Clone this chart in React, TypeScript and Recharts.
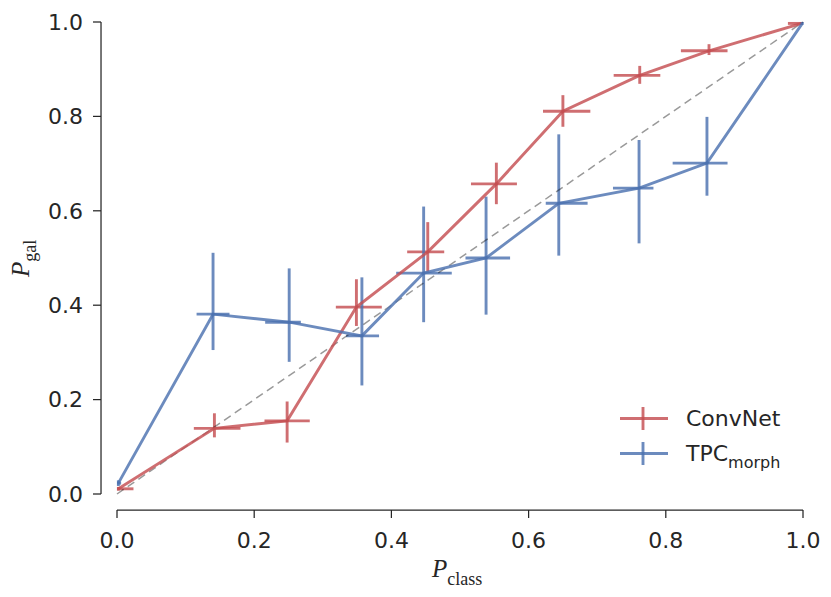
import React from "react";
import {
  ScatterChart,
  Scatter,
  XAxis,
  YAxis,
  ErrorBar,
  ReferenceLine,
} from "recharts";

// ConvNet calibration points: [below, above] error pairs
const convNetX = [0.002, 0.142, 0.248, 0.349, 0.453, 0.553, 0.65, 0.762, 0.863, 0.998];
const convNetY = [0.011, 0.139, 0.155, 0.396, 0.513, 0.657, 0.811, 0.887, 0.939, 0.997];
const convNetXErr = [
  [0.002, 0.022], [0.03, 0.038], [0.033, 0.033], [0.03, 0.037], [0.03, 0.024],
  [0.037, 0.03], [0.029, 0.04], [0.038, 0.03], [0.041, 0.027], [0.02, 0.002],
];
const convNetYErr = [
  [0.004, 0.004], [0.019, 0.032], [0.046, 0.041], [0.04, 0.059], [0.042, 0.063],
  [0.043, 0.045], [0.033, 0.034], [0.018, 0.02], [0.009, 0.014], [0.003, 0.003],
];

// TPC_morph calibration points
const tpcX = [0.002, 0.14, 0.251, 0.357, 0.447, 0.538, 0.644, 0.761, 0.86, 0.999];
const tpcY = [0.023, 0.381, 0.364, 0.335, 0.468, 0.5, 0.616, 0.648, 0.701, 0.997];
const tpcXErr = [
  [0.002, 0.004], [0.024, 0.024], [0.035, 0.017], [0.023, 0.025], [0.04, 0.041],
  [0.03, 0.035], [0.019, 0.042], [0.038, 0.021], [0.05, 0.03], [0.003, 0.001],
];
const tpcYErr = [
  [0.006, 0.006], [0.076, 0.13], [0.084, 0.114], [0.105, 0.124], [0.104, 0.141],
  [0.12, 0.13], [0.111, 0.146], [0.117, 0.102], [0.069, 0.098], [0.003, 0.003],
];

const ticks = [0, 0.2, 0.4, 0.6, 0.8, 1.0];

const RED = "#C44E52";
const BLUE = "#4C72B0";
const INK = "#262626";
const ALPHA = 0.82;
const LW = 2.9;

const toRows = (xs: number[], ys: number[], xe: number[][], ye: number[][]) =>
  xs.map((x, i) => ({ x, y: ys[i], xErr: xe[i], yErr: ye[i] }));

const convNetData = toRows(convNetX, convNetY, convNetXErr, convNetYErr);
const tpcData = toRows(tpcX, tpcY, tpcXErr, tpcYErr);

const tickStyle = { fontFamily: "DejaVu Sans", fontSize: 22, fill: INK };

const noMarker = () => <g />;

function LegendKey({ color }: { color: string }) {
  return (
    <svg width={56} height={35} style={{ display: "block" }}>
      <line x1={8} x2={56} y1={17.5} y2={17.5} stroke={color} strokeWidth={LW} strokeOpacity={ALPHA} />
      <line x1={31} x2={31} y1={6} y2={29} stroke={color} strokeWidth={LW} strokeOpacity={ALPHA} />
    </svg>
  );
}

export default function App() {
  return (
    <div style={{ position: "absolute", left: 0, top: 0, width: 831, height: 597, background: "#fff" }}>
      <ScatterChart width={831} height={597} margin={{ top: 22, right: 28, bottom: 0, left: 0 }}>
        <XAxis
          type="number"
          dataKey="x"
          domain={[0, 1]}
          allowDataOverflow
          ticks={ticks}
          tickFormatter={(v: number) => v.toFixed(1)}
          padding={{ left: 16, right: 0 }}
          height={87}
          axisLine={false}
          tickSize={8}
          tickMargin={14}
          tickLine={{ stroke: INK, strokeWidth: 1.25 }}
          tick={tickStyle}
          label={{
            content: () => (
              <text x={432} y={577} fill={INK} fontFamily="Liberation Serif" fontSize={25}>
                <tspan fontStyle="italic">P</tspan>
                <tspan dy={8} fontSize={18}>class</tspan>
              </text>
            ),
          }}
        />
        <YAxis
          type="number"
          dataKey="y"
          domain={[0, 1]}
          allowDataOverflow
          ticks={ticks}
          tickFormatter={(v: number) => v.toFixed(1)}
          padding={{ top: 0, bottom: 16 }}
          width={101}
          axisLine={false}
          tickSize={8}
          tickMargin={10}
          tickLine={{ stroke: INK, strokeWidth: 1.25 }}
          tick={tickStyle}
          label={{
            content: () => (
              <text
                x={29}
                y={277}
                transform="rotate(-90, 29, 277)"
                fill={INK}
                fontFamily="Liberation Serif"
                fontSize={25}
              >
                <tspan fontStyle="italic">P</tspan>
                <tspan dy={7} fontSize={18}>gal</tspan>
              </text>
            ),
          }}
        />

        {/* offset spines (seaborn despine style), drawn just outside the data range */}
        <ReferenceLine
          segment={[{ x: -0.0233, y: 0 }, { x: -0.0233, y: 1 }]}
          stroke={INK}
          strokeWidth={1.25}
          ifOverflow="visible"
        />
        <ReferenceLine
          segment={[{ x: 0, y: -0.0339 }, { x: 1, y: -0.0339 }]}
          stroke={INK}
          strokeWidth={1.25}
          ifOverflow="visible"
        />

        <Scatter
          name="ConvNet"
          data={convNetData}
          shape={noMarker}
          line={{ stroke: RED, strokeWidth: LW, strokeOpacity: ALPHA }}
          isAnimationActive={false}
        >
          <ErrorBar dataKey="xErr" direction="x" width={0} stroke={RED} strokeWidth={LW} strokeOpacity={ALPHA} />
          <ErrorBar dataKey="yErr" direction="y" width={0} stroke={RED} strokeWidth={LW} strokeOpacity={ALPHA} />
        </Scatter>
        <Scatter
          name="TPC_morph"
          data={tpcData}
          shape={noMarker}
          line={{ stroke: BLUE, strokeWidth: LW, strokeOpacity: ALPHA }}
          isAnimationActive={false}
        >
          <ErrorBar dataKey="xErr" direction="x" width={0} stroke={BLUE} strokeWidth={LW} strokeOpacity={ALPHA} />
          <ErrorBar dataKey="yErr" direction="y" width={0} stroke={BLUE} strokeWidth={LW} strokeOpacity={ALPHA} />
        </Scatter>

        <ReferenceLine
          segment={[{ x: 0, y: 0 }, { x: 1, y: 1 }]}
          stroke="#000"
          strokeOpacity={0.4}
          strokeWidth={1.5}
          strokeDasharray="8 5"
        />
      </ScatterChart>

      <div
        style={{
          position: "absolute",
          left: 612,
          top: 401,
          fontFamily: "DejaVu Sans",
          fontSize: 22,
          color: INK,
        }}
      >
        <div style={{ display: "flex", alignItems: "center", height: 35 }}>
          <LegendKey color={RED} />
          <span style={{ marginLeft: 18 }}>ConvNet</span>
        </div>
        <div style={{ display: "flex", alignItems: "center", height: 35 }}>
          <LegendKey color={BLUE} />
          <span style={{ marginLeft: 18 }}>
            TPC<span style={{ fontSize: 16, position: "relative", top: 7 }}>morph</span>
          </span>
        </div>
      </div>
    </div>
  );
}
